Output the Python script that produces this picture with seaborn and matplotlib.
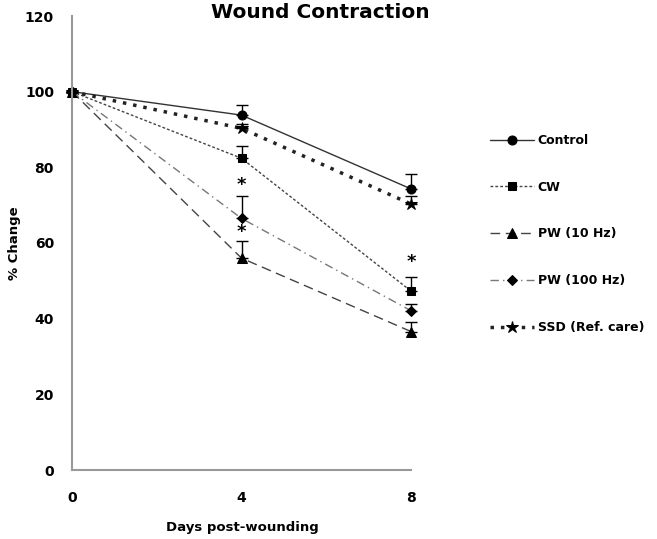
import seaborn as sns
import matplotlib.pyplot as plt
import pandas as pd

days = [0, 4, 8]

control = [100, 93.8, 74.3]
control_err = [0, 2.8, 3.9]
cw = [100, 82.4, 47.3]
cw_err = [0, 3.3, 3.8]
pw10 = [100, 56.0, 36.6]
pw10_err = [0, 4.6, 2.6]
pw100 = [100, 66.5, 42.1]
pw100_err = [0, 5.8, 1.8]
ssd = [100, 90.3, 70.3]
ssd_err = [0, 1.2, 2.0]

labels = ["Control", "CW", "PW (10 Hz)", "PW (100 Hz)", "SSD (Ref. care)"]

# significance stars
sig_days = [4, 4, 8]
sig_y = [75.2, 63.0, 54.9]

sns.set_style("white")
plt.rcParams["font.family"] = ["DejaVu Sans"]
plt.rcParams["font.weight"] = "bold"
plt.rcParams["text.color"] = "black"
plt.rcParams["xtick.labelcolor"] = "black"
plt.rcParams["ytick.labelcolor"] = "black"

fig = plt.figure(figsize=(6.57, 5.39), dpi=100)
ax = fig.add_axes([72 / 657, 1 - 470 / 539, (411 - 72) / 657, (470 - 16) / 539])

series = [control, cw, pw10, pw100, ssd]
errs = [control_err, cw_err, pw10_err, pw100_err, ssd_err]
styles = [
    dict(marker="o", linestyle="-", lw=1.0, color="#333333", ms=6.5),
    dict(marker="s", linestyle=(0, (2, 1.5)), lw=1.0, color="#444444", ms=6),
    dict(marker="^", linestyle=(0, (7, 4)), lw=1.0, color="#444444", ms=7),
    dict(marker="D", linestyle=(0, (6, 3, 1, 3)), lw=1.0, color="#777777", ms=5),
    dict(marker="*", linestyle=(0, (1, 2)), lw=2.5, color="#222222", ms=9),
]

for lab, vals, err, st in zip(labels, series, errs, styles):
    df = pd.DataFrame({"day": days, "value": vals})
    sns.lineplot(data=df, x="day", y="value", ax=ax, label=lab,
                 marker=st["marker"], linestyle=st["linestyle"], lw=st["lw"],
                 color=st["color"], markersize=st["ms"], clip_on=False,
                 markerfacecolor="black", markeredgecolor="black")
    ax.errorbar(days, vals, yerr=[[0] * len(err), err], fmt="none",
                ecolor="black", elinewidth=1, capsize=4, capthick=1, clip_on=False)

for d, y in zip(sig_days, sig_y):
    ax.text(d, y, "*", ha="center", va="center", fontsize=13, fontweight="bold")

ax.set_xlim(0, 8)
ax.set_ylim(0, 120)
ax.set_xticks([0, 4, 8])
ax.set_yticks(range(0, 121, 20))
ax.tick_params(axis="x", direction="out", length=4, width=1.2, color="#999999",
               pad=11, labelsize=10)
ax.tick_params(axis="y", direction="out", length=4, width=1.2, color="#999999",
               pad=9, labelsize=10)
for lab in ax.get_xticklabels() + ax.get_yticklabels():
    lab.set_fontweight("bold")

for side in ["top", "right"]:
    ax.spines[side].set_visible(False)
for side in ["left", "bottom"]:
    ax.spines[side].set_color("#999999")
    ax.spines[side].set_linewidth(1.5)

ax.set_xlabel("")
ax.set_ylabel("")
fig.text(242 / 657, 1 - 527 / 539, "Days post-wounding", ha="center", va="center",
         fontsize=9.5, fontweight="bold")
fig.text(15 / 657, 1 - 243 / 539, "% Change", ha="center", va="center",
         rotation=90, fontsize=9.5, fontweight="bold")
fig.text(320 / 657, 1 - 13 / 539, "Wound Contraction", ha="center", va="center",
         fontsize=14.5, fontweight="bold")

ax.legend(loc="upper left", bbox_to_anchor=(490 / 657, 1 - 134 / 539),
          bbox_transform=fig.transFigure, frameon=False,
          handlelength=3.5, labelspacing=2.7, handletextpad=0.3,
          borderpad=0, borderaxespad=0, prop={"weight": "bold", "size": 9})

fig.savefig("out.png", dpi=100)
